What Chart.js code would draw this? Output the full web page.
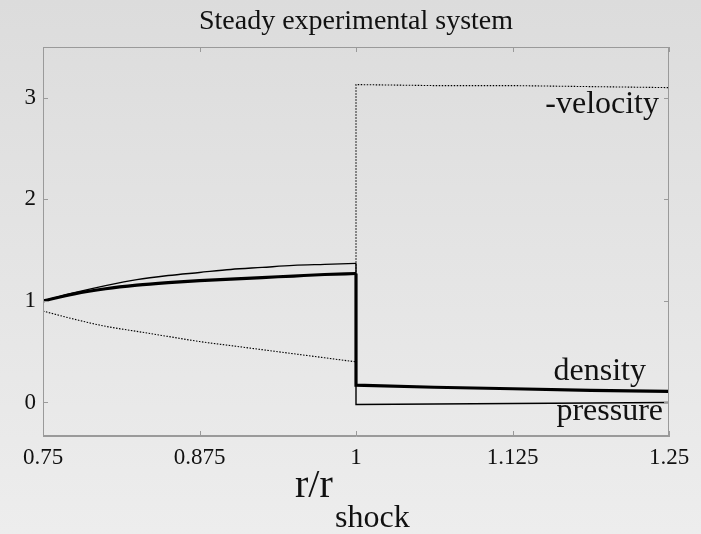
<!DOCTYPE html>
<html>
<head>
<meta charset="utf-8">
<script src="https://cdn.jsdelivr.net/npm/chart.js@4/dist/chart.umd.min.js"></script>
<style>
  html, body { margin: 0; padding: 0; background: #e4e4e4; }
  canvas { display: block; }
</style>
</head>
<body>
<canvas id="c" width="701" height="534"></canvas>
<script>
const TITLE = 'Steady experimental system'
const SERIF = '"Liberation Serif", "Times New Roman", serif'

// radius (r / r_shock), before and after the shock
const rPre = [0.75, 0.775, 0.8, 0.825, 0.85, 0.875, 0.9, 0.925, 0.95, 0.975, 1.0]
const rPost = [1.0, 1.0625, 1.125, 1.1875, 1.25]

const pressurePre = [1.0, 1.08, 1.15, 1.21, 1.25, 1.28, 1.31, 1.33, 1.35, 1.36, 1.37]
const pressurePost = [-0.02, -0.015, -0.01, -0.005, 0.0]
const densityPre = [1.0, 1.07, 1.12, 1.155, 1.18, 1.20, 1.215, 1.23, 1.245, 1.26, 1.27]
const densityPost = [0.17, 0.15, 0.135, 0.12, 0.11]
const velocityPre = [0.90, 0.82, 0.75, 0.70, 0.65, 0.60, 0.56, 0.52, 0.48, 0.44, 0.40]
const velocityPost = [3.13, 3.12, 3.12, 3.11, 3.10]

const xTicks = [0.75, 0.875, 1, 1.125, 1.25]
const xTickLabels = ['0.75', '0.875', '1', '1.125', '1.25']
const yTicks = [0, 1, 2, 3]
const yTickLabels = ['0', '1', '2', '3']

const seriesLabels = ['pressure', 'density', '-velocity']

const prePts = pre => rPre.map((r, i) => ({ x: r, y: pre[i] }))
// post-shock part starts at the last pre-shock value, so the jump is drawn as a vertical line
const postPts = (pre, post) =>
  [{ x: rPre[rPre.length - 1], y: pre[pre.length - 1] }].concat(rPost.map((r, i) => ({ x: r, y: post[i] })))

const decor = {
  id: 'decor',
  beforeDraw(chart) {
    const { ctx, width, height } = chart
    const g = ctx.createLinearGradient(0, 0, 0, height)
    g.addColorStop(0, '#dcdcdc')
    g.addColorStop(1, '#ededed')
    ctx.save()
    ctx.fillStyle = g
    ctx.fillRect(0, 0, width, height)
    ctx.restore()
  },
  afterDraw(chart) {
    const { ctx, chartArea: a, scales } = chart
    ctx.save()
    // box
    ctx.strokeStyle = '#9a9a9a'
    ctx.lineWidth = 1
    ctx.strokeRect(a.left + 0.5, a.top + 0.5, a.right - a.left - 1, a.bottom - a.top - 1)
    // inward ticks
    ctx.beginPath()
    scales.x.ticks.forEach(t => {
      const px = Math.round(scales.x.getPixelForValue(t.value)) + 0.5
      ctx.moveTo(px, a.bottom); ctx.lineTo(px, a.bottom - 5)
      ctx.moveTo(px, a.top); ctx.lineTo(px, a.top + 5)
    })
    scales.y.ticks.forEach(t => {
      const py = Math.round(scales.y.getPixelForValue(t.value)) + 0.5
      ctx.moveTo(a.left, py); ctx.lineTo(a.left + 5, py)
      ctx.moveTo(a.right, py); ctx.lineTo(a.right - 5, py)
    })
    ctx.stroke()

    ctx.fillStyle = '#111'
    ctx.textBaseline = 'alphabetic'
    // title
    ctx.textAlign = 'center'
    ctx.font = '28px ' + SERIF
    ctx.fillText(TITLE, (a.left + a.right) / 2, 29)
    // series labels
    ctx.font = '32px ' + SERIF
    ctx.textAlign = 'right'
    ctx.fillText(seriesLabels[2], a.right - 10, 113)
    ctx.fillText(seriesLabels[1], a.right - 23, 380)
    ctx.fillText(seriesLabels[0], a.right - 6, 420)
    // x axis title r/r_shock
    ctx.textAlign = 'left'
    ctx.font = '40px ' + SERIF
    const cx = (a.left + a.right) / 2
    ctx.fillText('r/r', cx - 61, 497)
    ctx.font = '32px ' + SERIF
    ctx.fillText('shock', cx - 21, 527)
    ctx.restore()
  }
}

const smooth = { showLine: true, pointRadius: 0, cubicInterpolationMode: 'monotone' }
const straight = { showLine: true, pointRadius: 0, tension: 0 }
const pStyle = { borderColor: '#000', borderWidth: 1.4 }
const dStyle = { borderColor: '#000', borderWidth: 3.2 }
const vStyle = { borderColor: '#000', borderWidth: 1.1, borderDash: [1.5, 1.5] }

new Chart(document.getElementById('c'), {
  type: 'scatter',
  data: {
    datasets: [
      { label: seriesLabels[0], data: prePts(pressurePre), ...smooth, ...pStyle },
      { label: seriesLabels[0], data: postPts(pressurePre, pressurePost), ...straight, ...pStyle },
      { label: seriesLabels[1], data: prePts(densityPre), ...smooth, ...dStyle },
      { label: seriesLabels[1], data: postPts(densityPre, densityPost), ...straight, ...dStyle },
      { label: seriesLabels[2], data: prePts(velocityPre), ...smooth, ...vStyle },
      { label: seriesLabels[2], data: postPts(velocityPre, velocityPost), ...straight, ...vStyle },
    ],
  },
  options: {
    responsive: false,
    animation: false,
    devicePixelRatio: 1,
    layout: { padding: { top: 47, right: 32, left: 0, bottom: 0 } },
    plugins: { legend: { display: false }, tooltip: { enabled: false }, title: { display: false } },
    scales: {
      x: {
        type: 'linear', min: 0.75, max: 1.25,
        afterBuildTicks: s => { s.ticks = xTicks.map(v => ({ value: v })) },
        afterFit: s => { s.height = 98 },
        ticks: { font: { family: SERIF, size: 23 }, color: '#111', padding: 8, maxRotation: 0,
          callback: v => xTickLabels[xTicks.indexOf(v)] },
        grid: { display: false, drawTicks: false },
        border: { color: '#9a9a9a' },
      },
      y: {
        type: 'linear', min: -0.33, max: 3.5,
        afterBuildTicks: s => { s.ticks = yTicks.map(v => ({ value: v })) },
        afterFit: s => { s.width = 43 },
        ticks: { font: { family: SERIF, size: 23 }, color: '#111', padding: 7,
          callback: v => yTickLabels[yTicks.indexOf(v)] },
        grid: { display: false, drawTicks: false },
        border: { color: '#9a9a9a' },
      },
    },
  },
  plugins: [decor],
})
</script>
</body>
</html>
